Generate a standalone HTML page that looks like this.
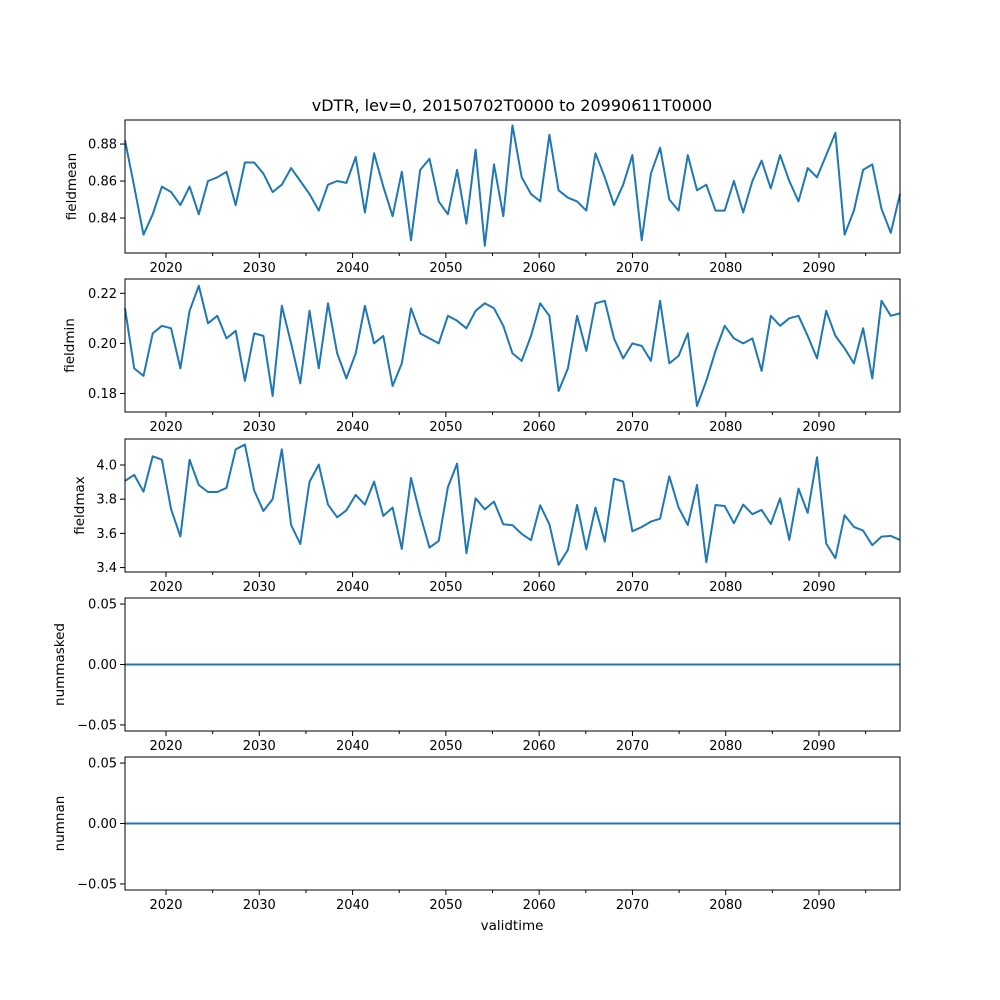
<!DOCTYPE html>
<html><head><meta charset="utf-8"><style>
body{margin:0;background:#fff}
svg{display:block;font-family:"DejaVu Sans","Liberation Sans",sans-serif}
</style></head><body>
<svg id="fig" width="1000" height="1000" xmlns="http://www.w3.org/2000/svg">
<text x="512" y="111" font-size="16" text-anchor="middle">vDTR, lev=0, 20150702T0000 to 20990611T0000</text>
<text x="512" y="930" font-size="13.5" text-anchor="middle">validtime</text>
</svg>
<script>
const fieldmean=[0.882,0.857,0.831,0.842,0.857,0.854,0.847,0.857,0.842,0.860,0.862,0.865,0.847,0.870,0.870,0.864,0.854,0.858,0.867,0.860,0.853,0.844,0.858,0.860,0.859,0.873,0.843,0.875,0.857,0.841,0.865,0.828,0.866,0.872,0.849,0.842,0.866,0.837,0.877,0.825,0.869,0.841,0.890,0.862,0.853,0.849,0.885,0.855,0.851,0.849,0.844,0.875,0.862,0.847,0.858,0.874,0.828,0.864,0.878,0.850,0.844,0.874,0.855,0.858,0.844,0.844,0.860,0.843,0.860,0.871,0.856,0.874,0.860,0.849,0.867,0.862,0.874,0.886,0.831,0.844,0.866,0.869,0.845,0.832,0.853];
const fieldmin=[0.214,0.190,0.187,0.204,0.207,0.206,0.190,0.213,0.223,0.208,0.211,0.202,0.205,0.185,0.204,0.203,0.179,0.215,0.200,0.184,0.213,0.190,0.216,0.196,0.186,0.196,0.215,0.200,0.203,0.183,0.192,0.214,0.204,0.202,0.200,0.211,0.209,0.206,0.213,0.216,0.214,0.207,0.196,0.193,0.203,0.216,0.211,0.181,0.190,0.211,0.197,0.216,0.217,0.202,0.194,0.200,0.199,0.193,0.217,0.192,0.195,0.204,0.175,0.185,0.197,0.207,0.202,0.200,0.202,0.189,0.211,0.207,0.210,0.211,0.203,0.194,0.213,0.203,0.198,0.192,0.206,0.186,0.217,0.211,0.212];
const fieldmax=[3.907,3.942,3.844,4.051,4.031,3.741,3.581,4.031,3.883,3.842,3.842,3.866,4.092,4.119,3.850,3.731,3.799,4.092,3.649,3.538,3.901,4.002,3.768,3.694,3.735,3.825,3.768,3.903,3.702,3.751,3.509,3.924,3.708,3.517,3.556,3.870,4.008,3.484,3.805,3.741,3.786,3.653,3.648,3.597,3.560,3.764,3.653,3.416,3.503,3.766,3.507,3.751,3.552,3.920,3.903,3.612,3.637,3.669,3.686,3.934,3.751,3.649,3.883,3.431,3.766,3.760,3.659,3.768,3.712,3.737,3.655,3.805,3.562,3.862,3.720,4.045,3.540,3.455,3.706,3.638,3.616,3.531,3.581,3.585,3.562];
const nummasked=fieldmean.map(()=>0);
const numnan=fieldmean.map(()=>0);
const xTickYears=[2020,2030,2040,2050,2060,2070,2080,2090];
const minorYears=[2015,2025,2035,2045,2055,2065,2075,2085,2095];
const panels=[
 {name:'fieldmean',data:fieldmean,top:120,lo:0.8211,hi:0.893,ticks:[0.84,0.86,0.88],labels:['0.84','0.86','0.88'],lx:76},
 {name:'fieldmin',data:fieldmin,top:279,lo:0.1726,hi:0.2257,ticks:[0.18,0.20,0.22],labels:['0.18','0.20','0.22'],lx:74},
 {name:'fieldmax',data:fieldmax,top:439,lo:3.374,hi:4.152,ticks:[3.4,3.6,3.8,4.0],labels:['3.4','3.6','3.8','4.0'],lx:84},
 {name:'nummasked',data:nummasked,top:598,lo:-0.055,hi:0.055,ticks:[-0.05,0,0.05],labels:['\u22120.05','0.00','0.05'],lx:64},
 {name:'numnan',data:numnan,top:757,lo:-0.055,hi:0.055,ticks:[-0.05,0,0.05],labels:['\u22120.05','0.00','0.05'],lx:64}
];
const L=125,R=900,H=133;
const svg=document.getElementById('fig');
const NS='http://www.w3.org/2000/svg';
function mk(t,a){const e=document.createElementNS(NS,t);for(const k in a)e.setAttribute(k,a[k]);svg.appendChild(e);return e;}
function xIdx(i,n){return L+i*(R-L)/(n-1);}
function xYear(y){return 166+(y-2020)*9.329;}
panels.forEach((p,pi)=>{
 const B=p.top+H;
 const yS=v=>B-(v-p.lo)/(p.hi-p.lo)*H;
 const d=p.data.map((v,i)=>(i?'L':'M')+xIdx(i,p.data.length).toFixed(1)+','+yS(v).toFixed(1)).join(' ');
 const line=mk('path',{d:d,fill:'none',stroke:'#1f77b4','stroke-width':2,'stroke-linejoin':'round'});
 
 
 const frame=mk('rect',{x:L,y:p.top,width:R-L,height:H,fill:'none',stroke:'#000','stroke-width':1});
 
 
 p.ticks.forEach((t,ti)=>{
  const y=yS(t);
  const tk=mk('line',{x1:L-5,x2:L,y1:y,y2:y,stroke:'#000','stroke-width':1});
  
  
  const tl=mk('text',{x:L-8,y:y+4.5,'font-size':13,'text-anchor':'end'});
  tl.textContent=p.labels[ti];
  
  
 });
 xTickYears.forEach(yr=>{
  const x=xYear(yr);
  const tk=mk('line',{x1:x,x2:x,y1:B,y2:B+5,stroke:'#000','stroke-width':1});
  
  
  const tl=mk('text',{x:x,y:B+19,'font-size':13,'text-anchor':'middle'});
  tl.textContent=yr;
  
  
 });
 minorYears.forEach(yr=>{
  const x=xYear(yr);
  if(x<L-1)return;
  const tk=mk('line',{x1:x,x2:x,y1:B,y2:B+3,stroke:'#000','stroke-width':1});
  
  
 });
 const cy=p.top+H/2;
 const yl=mk('text',{x:p.lx,y:cy,'font-size':13.5,'text-anchor':'middle',transform:'rotate(-90 '+p.lx+' '+cy+')'});
 yl.textContent=p.name;
 
 
});
</script>
</body></html>
